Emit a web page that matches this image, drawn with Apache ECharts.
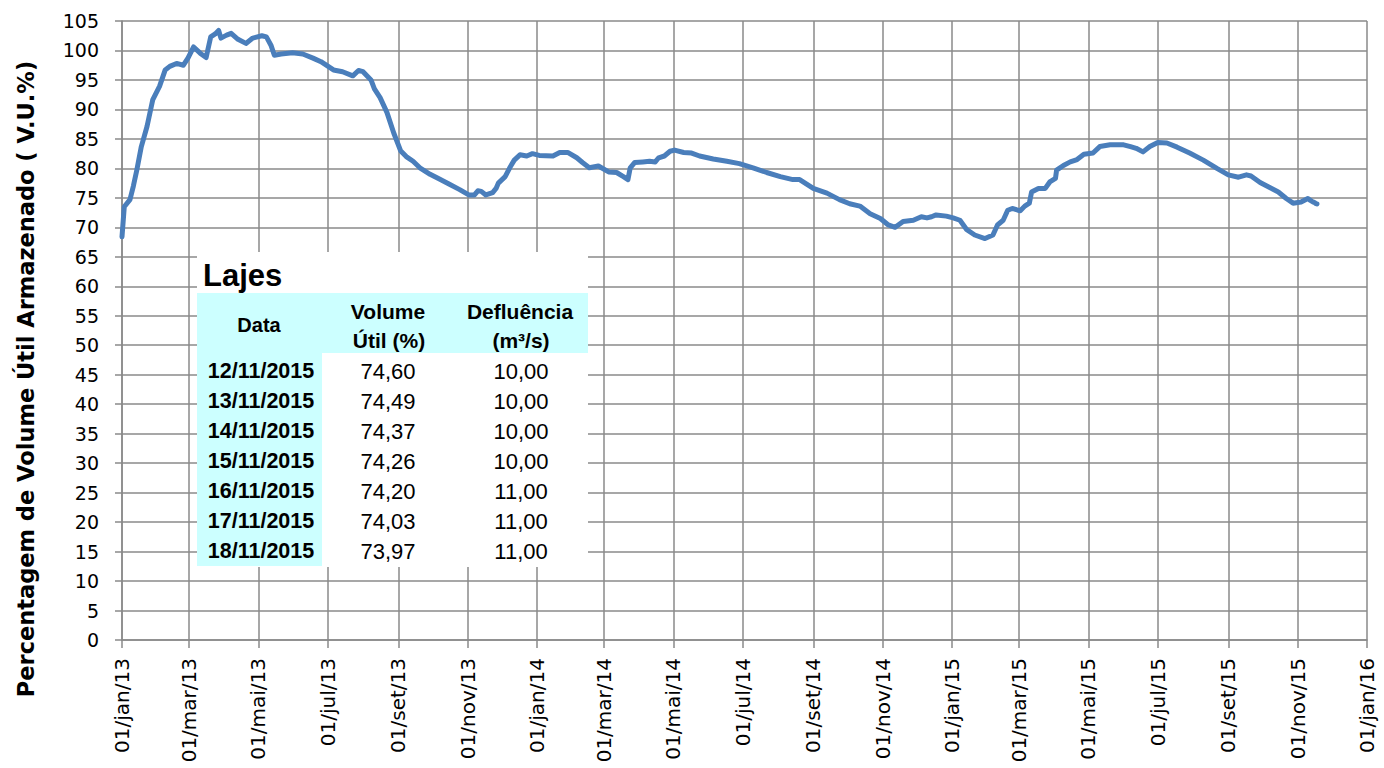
<!DOCTYPE html>
<html>
<head>
<meta charset="utf-8">
<script src="https://cdn.jsdelivr.net/npm/echarts@6/dist/echarts.min.js"></script>
<style>
html,body{margin:0;padding:0;background:#fff;}
#chart{width:1384px;height:768px;}
</style>
</head>
<body>
<div id="chart"></div>
<script>
// ---- Data ----
const dates = [
  '2013-01-01','2013-01-03','2013-01-08','2013-01-11','2013-01-14','2013-01-18','2013-01-23','2013-01-28',
  '2013-02-03','2013-02-08','2013-02-12','2013-02-18','2013-02-24','2013-02-28',
  '2013-03-05','2013-03-11','2013-03-16','2013-03-20','2013-03-24','2013-03-27','2013-03-29',
  '2013-04-03','2013-04-07','2013-04-13','2013-04-20','2013-04-26',
  '2013-05-04','2013-05-08','2013-05-12','2013-05-15','2013-05-21','2013-05-31',
  '2013-06-09','2013-06-18','2013-06-25',
  '2013-07-06','2013-07-14','2013-07-23','2013-07-28',
  '2013-08-01','2013-08-08','2013-08-11','2013-08-16','2013-08-22','2013-08-28',
  '2013-09-03','2013-09-08','2013-09-14','2013-09-20','2013-09-29',
  '2013-10-08','2013-10-16','2013-10-25',
  '2013-11-02','2013-11-07','2013-11-10','2013-11-13','2013-11-17','2013-11-23','2013-11-26','2013-11-28',
  '2013-12-04','2013-12-08','2013-12-12','2013-12-17','2013-12-23','2013-12-28',
  '2014-01-03','2014-01-15','2014-01-21','2014-01-28',
  '2014-02-05','2014-02-10','2014-02-16','2014-02-24',
  '2014-03-05','2014-03-12','2014-03-18','2014-03-22','2014-03-24','2014-03-28',
  '2014-04-04','2014-04-10','2014-04-15','2014-04-18','2014-04-23','2014-04-28',
  '2014-05-02','2014-05-10','2014-05-17','2014-05-24',
  '2014-06-05','2014-06-17','2014-06-28',
  '2014-07-10','2014-07-22',
  '2014-08-03','2014-08-14','2014-08-20',
  '2014-09-01','2014-09-13','2014-09-24',
  '2014-10-03','2014-10-12','2014-10-21','2014-10-30',
  '2014-11-06','2014-11-12','2014-11-19','2014-11-28',
  '2014-12-05','2014-12-10','2014-12-14','2014-12-18','2014-12-27',
  '2015-01-02','2015-01-08','2015-01-14','2015-01-21','2015-01-30',
  '2015-02-06','2015-02-10','2015-02-15','2015-02-19','2015-02-23',
  '2015-03-02','2015-03-06','2015-03-10','2015-03-12','2015-03-18','2015-03-24','2015-03-28',
  '2015-04-02','2015-04-03','2015-04-09','2015-04-15','2015-04-21','2015-04-27',
  '2015-05-05','2015-05-11','2015-05-20',
  '2015-06-01','2015-06-07','2015-06-12','2015-06-18','2015-06-24',
  '2015-07-01','2015-07-09','2015-07-18','2015-07-29',
  '2015-08-10','2015-08-22',
  '2015-09-01','2015-09-10','2015-09-17','2015-09-21','2015-09-29',
  '2015-10-07','2015-10-15','2015-10-22','2015-10-28',
  '2015-11-04','2015-11-10'
];
const volume = [
  68.4, 73.5, 74.7, 77.0, 79.7, 83.7, 87.1, 91.6,
  93.9, 96.7, 97.3, 97.8, 97.5, 98.7,
  100.6, 99.5, 98.8, 102.3, 102.8, 103.4, 102.1,
  102.6, 102.9, 101.9, 101.2, 102.1,
  102.5, 102.3, 100.9, 99.2, 99.4, 99.6,
  99.4, 98.7, 98.1,
  96.7, 96.4, 95.7, 96.6,
  96.4, 95.0, 93.5, 92.0, 89.5, 86.0,
  83.0, 82.0, 81.2, 80.1, 79.0,
  78.1, 77.3, 76.4,
  75.5, 75.5, 76.2, 76.1, 75.5, 75.9, 76.6, 77.5,
  78.6, 80.1, 81.4, 82.3, 82.1, 82.5,
  82.2, 82.1, 82.7, 82.7,
  81.8, 81.0, 80.1, 80.4,
  79.4, 79.3, 78.6, 78.1, 80.1, 81.0,
  81.1, 81.2, 81.1, 81.8, 82.1, 82.9,
  83.1, 82.7, 82.6, 82.1,
  81.6, 81.2, 80.8,
  80.1, 79.3,
  78.6, 78.1, 78.1,
  76.6, 75.8, 74.7,
  74.0, 73.6, 72.3, 71.5,
  70.4, 70.0, 71.0, 71.2,
  71.8, 71.6, 71.8, 72.1, 71.9,
  71.6, 71.2, 69.6, 68.7, 68.1,
  68.7, 70.4, 71.2, 72.9, 73.2,
  72.8, 73.6, 74.1, 76.0, 76.6, 76.6, 77.7,
  78.3, 79.7, 80.5, 81.1, 81.5, 82.4,
  82.6, 83.7, 84.0,
  84.0, 83.7, 83.4, 82.8, 83.7,
  84.4, 84.3, 83.6, 82.6,
  81.4, 80.0,
  78.9, 78.5, 78.9, 78.7, 77.6,
  76.8, 76.0, 74.9, 74.1,
  74.3, 74.9
];
// Inset table (last 7 days)
const tableDates = ['12/11/2015','13/11/2015','14/11/2015','15/11/2015','16/11/2015','17/11/2015','18/11/2015'];
const tableIsoDates = ['2015-11-12','2015-11-13','2015-11-14','2015-11-15','2015-11-16','2015-11-17','2015-11-18'];
const tableVolume = [74.60, 74.49, 74.37, 74.26, 74.20, 74.03, 73.97];
const tableFlow = [10.00, 10.00, 10.00, 10.00, 11.00, 11.00, 11.00];
// X tick dates (every 2 months)
const tickDates = ['2013-01-01','2013-03-01','2013-05-01','2013-07-01','2013-09-01','2013-11-01',
  '2014-01-01','2014-03-01','2014-05-01','2014-07-01','2014-09-01','2014-11-01',
  '2015-01-01','2015-03-01','2015-05-01','2015-07-01','2015-09-01','2015-11-01','2016-01-01'];
const monthNames = ['jan','fev','mar','abr','mai','jun','jul','ago','set','out','nov','dez'];
const yTitle = 'Percentagem de Volume Útil Armazenado ( V.U.%)';

// ---- Build chart ----
const toTs = s => { const p = s.split('-').map(Number); return new Date(p[0], p[1] - 1, p[2]).getTime(); };
const seriesData = dates.map((d, i) => [toTs(d), volume[i]])
  .concat(tableIsoDates.map((d, i) => [toTs(d), tableVolume[i]]));
const tickTs = tickDates.map(toTs);

const fmtBR = v => v.toFixed(2).replace('.', ',');
const gridColor = '#8a8a8a';
const tblFont = '"Liberation Sans", Arial, sans-serif';

const tableGraphics = [
  { type: 'text', x: 26, y: 379, rotation: Math.PI / 2,
    style: { text: yTitle, font: 'bold 22.5px "DejaVu Sans", sans-serif', fill: '#000', verticalAlign: 'middle', align: 'center' }, z: 12 },
  { type: 'rect', shape: { x: 197, y: 252, width: 391, height: 315 }, style: { fill: '#ffffff' }, z: 10 },
  { type: 'rect', shape: { x: 197, y: 293, width: 391, height: 60 }, style: { fill: '#ccffff' }, z: 11 },
  { type: 'rect', shape: { x: 197, y: 353, width: 125, height: 213 }, style: { fill: '#ccffff' }, z: 11 },
  { type: 'text', x: 203, y: 275, style: { text: 'Lajes', font: 'bold 31px ' + tblFont, fill: '#000', verticalAlign: 'middle', align: 'left' }, z: 12 },
  { type: 'text', x: 259, y: 325, style: { text: 'Data', font: 'bold 20px ' + tblFont, fill: '#000', verticalAlign: 'middle', align: 'center' }, z: 12 },
  { type: 'text', x: 388, y: 311, style: { text: 'Volume', font: 'bold 21px ' + tblFont, fill: '#000', verticalAlign: 'middle', align: 'center' }, z: 12 },
  { type: 'text', x: 389, y: 340, style: { text: 'Útil (%)', font: 'bold 21px ' + tblFont, fill: '#000', verticalAlign: 'middle', align: 'center' }, z: 12 },
  { type: 'text', x: 520, y: 311, style: { text: 'Defluência', font: 'bold 21px ' + tblFont, fill: '#000', verticalAlign: 'middle', align: 'center' }, z: 12 },
  { type: 'text', x: 521, y: 340, style: { text: '(m³/s)', font: 'bold 21px ' + tblFont, fill: '#000', verticalAlign: 'middle', align: 'center' }, z: 12 }
];
tableDates.forEach((d, i) => {
  const y = 371 + i * 30;
  tableGraphics.push({ type: 'text', x: 261, y: y, style: { text: d, font: 'bold 21.5px ' + tblFont, fill: '#000', verticalAlign: 'middle', align: 'center' }, z: 12 });
  tableGraphics.push({ type: 'text', x: 388, y: y, style: { text: fmtBR(tableVolume[i]), font: '22px ' + tblFont, fill: '#000', verticalAlign: 'middle', align: 'center' }, z: 12 });
  tableGraphics.push({ type: 'text', x: 521, y: y, style: { text: fmtBR(tableFlow[i]), font: '22px ' + tblFont, fill: '#000', verticalAlign: 'middle', align: 'center' }, z: 12 });
});

const chart = echarts.init(document.getElementById('chart'), null, { renderer: 'svg' });
chart.setOption({
  backgroundColor: '#ffffff',
  animation: false,
  grid: { left: 122, right: 17, top: 21, bottom: 128, containLabel: false, outerBoundsMode: 'none' },
  xAxis: {
    type: 'value',
    min: tickTs[0],
    max: tickTs[tickTs.length - 1],
    axisLine: { show: true, onZero: false, lineStyle: { color: gridColor, width: 1.5 } },
    axisTick: { show: true, length: 8, customValues: tickTs, lineStyle: { color: gridColor, width: 1.5 } },
    splitLine: { show: true, lineStyle: { color: gridColor, width: 1.5 } },
    axisLabel: {
      customValues: tickTs,
      rotate: 90,
      margin: 18,
      showMinLabel: true,
      showMaxLabel: true,
      hideOverlap: false,
      color: '#000',
      fontSize: 20,
      fontFamily: '"DejaVu Sans", sans-serif',
      formatter: function (val) {
        const d = new Date(val);
        return '01/' + monthNames[d.getMonth()] + '/' + String(d.getFullYear()).slice(2);
      }
    }
  },
  yAxis: {
    type: 'value',
    min: 0,
    max: 105,
    interval: 5,
    axisLine: { show: true, lineStyle: { color: gridColor, width: 1.5 } },
    axisTick: { show: true, length: 7, lineStyle: { color: gridColor, width: 1.5 } },
    splitLine: { show: true, lineStyle: { color: gridColor, width: 1.5 } },
    axisLabel: { color: '#000', fontSize: 19, margin: 23, fontFamily: '"DejaVu Sans", sans-serif' }
  },
  series: [{
    type: 'line',
    data: seriesData,
    showSymbol: false,
    symbol: 'none',
    lineStyle: { color: '#4a7ebb', width: 5, cap: 'round', join: 'round' },
    z: 5
  }],
  graphic: tableGraphics
});
</script>
</body>
</html>
